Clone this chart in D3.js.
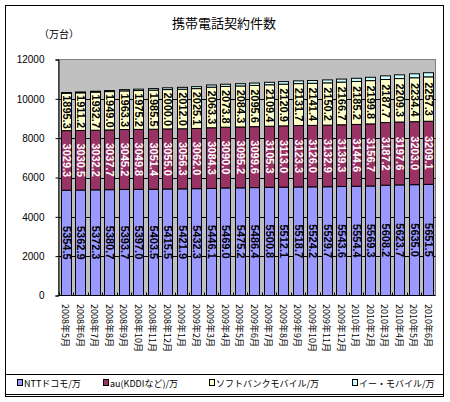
<!DOCTYPE html>
<html>
<head>
<meta charset="utf-8">
<script src="https://cdn.jsdelivr.net/npm/d3@7"></script>
<style>
  body { margin: 0; background: #fff; }
  svg { display: block; }
  text { font-family: "Liberation Sans", "Noto Sans CJK JP", sans-serif; }
  .jp { font-family: "Noto Sans CJK JP", sans-serif; }
</style>
</head>
<body>
<div id="chart"></div>
<script>
const months = ["2008年5月","2008年6月","2008年7月","2008年8月","2008年9月","2008年10月","2008年11月","2008年12月",
  "2009年1月","2009年2月","2009年3月","2009年4月","2009年5月","2009年6月","2009年7月","2009年8月","2009年9月",
  "2009年10月","2009年11月","2009年12月","2010年1月","2010年2月","2010年3月","2010年4月","2010年5月","2010年6月"];

const docomo = [5354.5,5362.9,5372.3,5380.7,5393.7,5397.0,5403.5,5415.5,5421.9,5432.3,5446.1,5469.0,5475.2,
  5486.4,5500.8,5512.1,5518.7,5524.2,5529.7,5543.6,5554.4,5569.3,5608.2,5623.7,5635.0,5651.5];
const au = [3029.3,3030.5,3032.2,3037.7,3045.2,3049.8,3051.4,3055.0,3056.3,3062.0,3084.3,3090.0,3095.2,
  3099.6,3105.3,3113.0,3123.3,3126.0,3132.9,3139.3,3144.6,3156.7,3187.2,3197.6,3203.0,3209.1];
const softbank = [1895.3,1911.2,1932.7,1949.0,1963.3,1975.2,1985.5,2000.0,2012.0,2025.1,2063.3,2073.8,2084.3,
  2095.6,2109.4,2120.9,2131.7,2141.4,2150.2,2166.7,2185.2,2199.8,2187.7,2209.3,2234.4,2257.3];
// イー・モバイル: no labels in the picture
const emobile = [40,45,50,55,65,70,80,90,95,100,110,110,115,120,125,130,140,140,150,155,160,170,185,190,200,210];

const seriesNames = ["NTTドコモ/万","au(KDDIなど)/万","ソフトバンクモバイル/万","イー・モバイル/万"];
const seriesColors = ["#9999FF","#993366","#FFFFCC","#CCFFFF"];
const labelColors = ["#000","#fff","#000",null];
const yTicks = [0,2000,4000,6000,8000,10000,12000];

const W = 450, H = 402;
const plot = {left: 58.5, right: 435.5, top: 59.5, bottom: 295.5};

const svg = d3.select("#chart").append("svg").attr("width", W).attr("height", H);

// outer frame
svg.append("rect").attr("x", 5.5).attr("y", 5.5).attr("width", 438).attr("height", 391)
   .attr("fill", "#fff").attr("stroke", "#000");
svg.append("line").attr("x1", 5.5).attr("x2", 443.5).attr("y1", 374.5).attr("y2", 374.5).attr("stroke", "#000");
svg.append("line").attr("x1", 5.5).attr("x2", 443.5).attr("y1", 394.5).attr("y2", 394.5).attr("stroke", "#000");

svg.append("text").attr("class", "jp").attr("x", 224).attr("y", 28).attr("text-anchor", "middle")
   .style("font-size", "13px").text("携帯電話契約件数");
svg.append("text").attr("class", "jp").attr("x", 39).attr("y", 38)
   .style("font-size", "10px").text("（万台）");

const stackData = months.map((m, i) => ({month: m, s0: docomo[i], s1: au[i], s2: softbank[i], s3: emobile[i]}));
const keys = ["s0","s1","s2","s3"];
const stacked = d3.stack().keys(keys)(stackData);

const x = d3.scaleBand().domain(months).range([plot.left, plot.right]).paddingInner(0.3).paddingOuter(0.15);
const y = d3.scaleLinear().domain([0, 12000]).range([plot.bottom, plot.top]);

svg.append("rect").attr("x", plot.left).attr("y", plot.top)
   .attr("width", plot.right - plot.left).attr("height", plot.bottom - plot.top)
   .attr("fill", "#C0C0C0").attr("stroke", "#808080");

// gridlines
svg.append("g").selectAll("line").data(yTicks.filter(d => d > 0 && d < 12000)).enter().append("line")
   .attr("x1", plot.left).attr("x2", plot.right)
   .attr("y1", d => Math.round(y(d)) + 0.5).attr("y2", d => Math.round(y(d)) + 0.5)
   .attr("stroke", "#000");

// bars
const layer = svg.append("g").selectAll("g").data(stacked).enter().append("g")
   .attr("fill", (d, i) => seriesColors[i]);

layer.selectAll("rect").data(d => d).enter().append("rect")
   .attr("x", d => Math.round(x(d.data.month)) + 0.5)
   .attr("width", Math.round(x.bandwidth()))
   .attr("y", d => y(d[1]))
   .attr("height", d => y(d[0]) - y(d[1]))
   .attr("stroke", "#000").attr("stroke-width", 1);

// labels
stacked.forEach((layerData, li) => {
  if (!labelColors[li]) return;
  svg.append("g").selectAll("text").data(layerData).enter().append("text")
     .attr("transform", d => {
       const cx = Math.round(x(d.data.month)) + 0.5 + Math.round(x.bandwidth()) / 2;
       const cy = (y(d[0]) + y(d[1])) / 2;
       return "translate(" + cx + "," + cy + ") rotate(90)";
     })
     .attr("text-anchor", "middle").attr("dominant-baseline", "central")
     .attr("fill", labelColors[li])
     .style("font-size", "11px").style("font-weight", "bold")
     .text(d => (d[1] - d[0]).toFixed(1));
});

// axes
const yAxis = d3.axisLeft(y).tickValues(yTicks).tickSize(3).tickFormat(d3.format("d"));
const gy = svg.append("g").attr("transform", "translate(" + plot.left + ",0)").call(yAxis);
gy.select(".domain").attr("stroke", "#000");
gy.selectAll("text").attr("x", -14).style("font-size", "10px").style("font-family", "'Liberation Sans', sans-serif");

svg.append("line").attr("x1", plot.left).attr("x2", plot.right)
   .attr("y1", plot.bottom).attr("y2", plot.bottom).attr("stroke", "#000");
const step = x.step();
svg.append("g").selectAll("line").data(months).enter().append("line")
   .attr("x1", d => Math.round(x(d) - step * 0.15) + 0.5).attr("x2", d => Math.round(x(d) - step * 0.15) + 0.5)
   .attr("y1", plot.bottom).attr("y2", plot.bottom - 3).attr("stroke", "#000");

svg.append("g").selectAll("text").data(months).enter().append("text")
   .attr("class", "jp")
   .attr("transform", d => "translate(" + (x(d) + x.bandwidth() / 2) + "," + 304 + ") rotate(90)")
   .attr("dominant-baseline", "central")
   .style("font-size", "9px")
   .text(d => d);

// legend
const legendX = [17, 103, 209, 352];
const legend = svg.append("g").selectAll("g").data(seriesNames).enter().append("g")
   .attr("transform", (d, i) => "translate(" + legendX[i] + ",383)");
legend.append("rect").attr("x", 0.5).attr("y", -3.5).attr("width", 5).attr("height", 6)
   .attr("fill", (d, i) => seriesColors[i]).attr("stroke", "#000");
legend.append("text").attr("class", "jp").attr("x", 7).attr("dominant-baseline", "central")
   .style("font-size", "9px").text(d => d);
</script>
</body>
</html>
